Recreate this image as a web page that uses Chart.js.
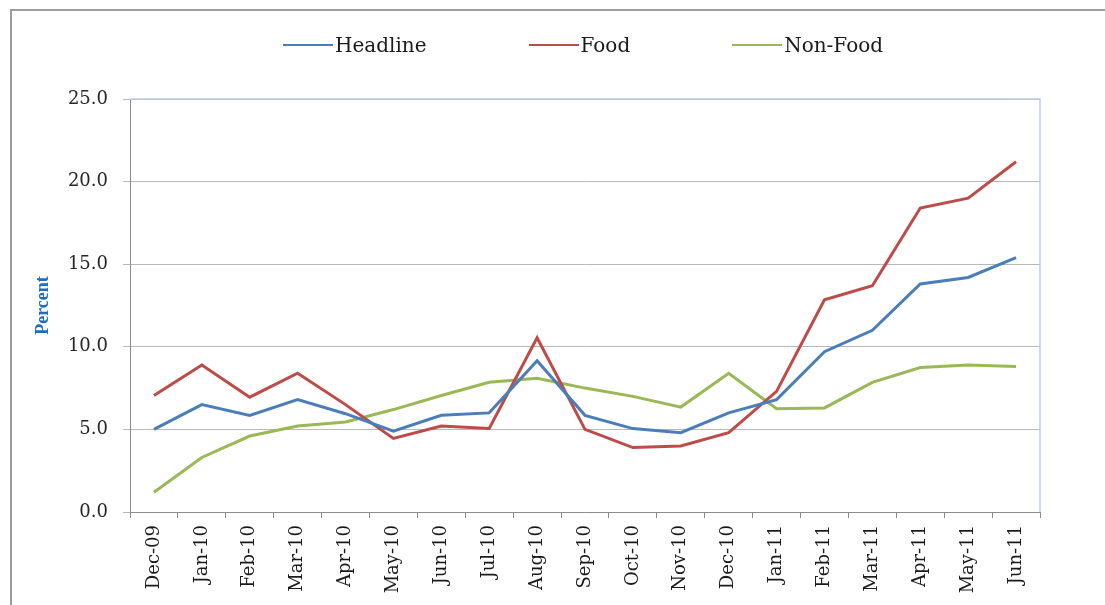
<!DOCTYPE html>
<html lang="en">
<head>
    <meta charset="UTF-8">
    <title>Inflation: Headline, Food and Non-Food</title>
    <script src="https://cdn.jsdelivr.net/npm/chart.js"></script>
    <style>
        body {
            margin: 0;
            padding: 0;
            background: #ffffff;
        }

        .wrap {
            position: relative;
            width: 1105px;
            height: 605px;
        }

        .legend {
            position: absolute;
            left: 283px;
            top: 32px;
            height: 26px;
            display: flex;
            align-items: center;
            gap: 102px;
            font-family: "DejaVu Serif", serif;
            font-size: 20px;
            color: #1a1a1a;
        }

        .legend span.item {
            display: flex;
            align-items: center;
        }

        .legend span.swatch {
            display: inline-block;
            width: 50px;
            height: 2px;
            margin-right: 2px;
        }
    </style>
</head>
<body>
    <div class="wrap">
        <canvas id="inflationChart" width="1105" height="605"></canvas>
        <div class="legend" id="legend"></div>
    </div>

    <script>
        var months = ['Dec-09', 'Jan-10', 'Feb-10', 'Mar-10', 'Apr-10', 'May-10', 'Jun-10', 'Jul-10', 'Aug-10', 'Sep-10',
                      'Oct-10', 'Nov-10', 'Dec-10', 'Jan-11', 'Feb-11', 'Mar-11', 'Apr-11', 'May-11', 'Jun-11'];

        var headline = [5.0, 6.5, 5.85, 6.8, 5.95, 4.9, 5.85, 6.0, 9.15, 5.85, 5.05, 4.8, 6.0, 6.8, 9.7, 11.0, 13.8, 14.2, 15.4];
        var food     = [7.05, 8.9, 6.95, 8.4, 6.5, 4.45, 5.2, 5.05, 10.55, 5.0, 3.9, 4.0, 4.8, 7.3, 12.85, 13.7, 18.4, 19.0, 21.2];
        var nonFood  = [1.2, 3.3, 4.6, 5.2, 5.45, 6.2, 7.05, 7.85, 8.1, 7.5, 7.0, 6.35, 8.4, 6.25, 6.3, 7.85, 8.75, 8.9, 8.8];

        var yTicks = [0, 5, 10, 15, 20, 25];

        var seriesNames = ['Headline', 'Food', 'Non-Food'];
        var seriesColors = ['#4a7ebb', '#be4b48', '#98b954'];

        // legend built as html so spacing can follow the layout
        var legendEl = document.getElementById('legend');
        seriesNames.forEach(function (name, i) {
            var item = document.createElement('span');
            item.className = 'item';
            var sw = document.createElement('span');
            sw.className = 'swatch';
            sw.style.background = seriesColors[i];
            item.appendChild(sw);
            item.appendChild(document.createTextNode(name));
            legendEl.appendChild(item);
        });

        // outer frame and the light blue top/right edges of the plot
        var frames = {
            id: 'frames',
            beforeDraw: function (chart) {
                var ctx = chart.ctx;
                ctx.save();
                ctx.strokeStyle = '#9c9c9c';
                ctx.lineWidth = 2;
                ctx.beginPath();
                ctx.moveTo(11, 605);
                ctx.lineTo(11, 10);
                ctx.lineTo(1105, 10);
                ctx.stroke();
                ctx.restore();
            },
            beforeDatasetsDraw: function (chart) {
                var a = chart.chartArea;
                var ctx = chart.ctx;
                ctx.save();
                ctx.strokeStyle = '#b9cde5';
                ctx.lineWidth = 1.5;
                ctx.beginPath();
                ctx.moveTo(a.left, a.top);
                ctx.lineTo(a.right, a.top);
                ctx.lineTo(a.right, a.bottom);
                ctx.stroke();
                ctx.restore();
            }
        };

        var datasets = [headline, food, nonFood].map(function (values, i) {
            return {
                label: seriesNames[i],
                data: values,
                borderColor: seriesColors[i],
                backgroundColor: seriesColors[i],
                borderWidth: 3,
                pointRadius: 0,
                tension: 0,
                fill: false
            };
        });

        var ctx = document.getElementById('inflationChart').getContext('2d');
        var chart = new Chart(ctx, {
            type: 'line',
            data: {
                labels: months,
                datasets: datasets
            },
            options: {
                responsive: false,
                animation: false,
                layout: {
                    padding: { top: 99, right: 65, left: 12, bottom: 0 }
                },
                plugins: {
                    legend: { display: false },
                    tooltip: { enabled: false }
                },
                scales: {
                    x: {
                        offset: true,
                        afterFit: function (scale) { scale.height = 93; },
                        grid: {
                            offset: true,
                            drawOnChartArea: false,
                            drawTicks: true,
                            tickLength: 6,
                            color: '#8c8c8c'
                        },
                        border: { color: '#8c8c8c', width: 1 },
                        ticks: {
                            minRotation: 90,
                            maxRotation: 90,
                            padding: 7,
                            color: '#1a1a1a',
                            font: { family: '"DejaVu Serif", serif', size: 18 }
                        }
                    },
                    y: {
                        min: 0,
                        max: 25,
                        afterFit: function (scale) { scale.width = 118; },
                        afterBuildTicks: function (scale) {
                            scale.ticks = yTicks.map(function (v) { return { value: v }; });
                        },
                        grid: {
                            color: '#b8b8b8',
                            lineWidth: 1,
                            drawTicks: true,
                            tickLength: 7
                        },
                        border: { color: '#8c8c8c', width: 1 },
                        ticks: {
                            padding: 15,
                            color: '#262626',
                            font: { family: '"DejaVu Serif", serif', size: 18 },
                            callback: function (value) { return Number(value).toFixed(1); }
                        },
                        title: {
                            display: true,
                            text: 'Percent',
                            color: '#1f6cc0',
                            align: 'center',
                            padding: { top: 21, bottom: 0 },
                            font: { family: '"Liberation Serif", serif', size: 18, weight: 'bold' }
                        }
                    }
                }
            },
            plugins: [frames]
        });
    </script>
</body>
</html>
